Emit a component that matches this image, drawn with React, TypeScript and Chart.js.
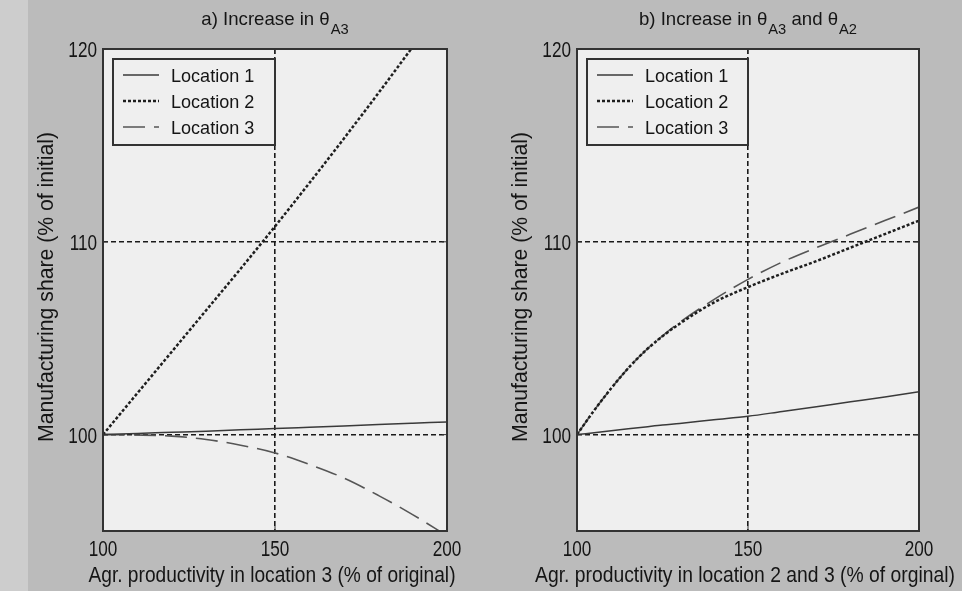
import React, { useEffect, useRef } from "react";
import { Chart, registerables } from "chart.js";

Chart.register(...registerables);

// ---------- data ----------
const seriesNames = ["Location 1", "Location 2", "Location 3"];
const xTicks = [100, 150, 200];
const yTicks = [100, 110, 120];

const xA = [100, 110, 120, 130, 140, 150, 160, 170, 180, 190, 200];
const aLoc1 = [100, 100.06, 100.12, 100.18, 100.25, 100.31, 100.38, 100.45, 100.52, 100.59, 100.66];
const aLoc2 = [100, 102.15, 104.3, 106.45, 108.6, 110.8, 113.05, 115.35, 117.7, 120.1, 122.5];
const aLoc3 = [100, 99.98, 99.92, 99.75, 99.45, 99.05, 98.45, 97.75, 96.85, 95.85, 94.75];

const xB = [100, 105, 110, 115, 120, 125, 130, 140, 150, 160, 170, 180, 190, 200];
const bLoc1 = [100, 100.1, 100.2, 100.3, 100.4, 100.5, 100.58, 100.77, 100.95, 101.2, 101.45, 101.7, 101.95, 102.22];
const bLoc2 = [100, 101.25, 102.4, 103.45, 104.35, 105.1, 105.75, 106.85, 107.65, 108.35, 109.0, 109.7, 110.4, 111.1];
const bLoc3 = [100, 101.25, 102.4, 103.45, 104.35, 105.12, 105.82, 107.0, 108.05, 108.95, 109.7, 110.4, 111.1, 111.8];

const titleA: [string, boolean][] = [["a) Increase in θ", false], ["A3", true]];
const titleB: [string, boolean][] = [["b) Increase in θ", false], ["A3", true], [" and θ", false], ["A2", true]];
const yTitle = "Manufacturing share (% of initial)";
const xTitleA = "Agr. productivity in location 3 (% of original)";
const xTitleB = "Agr. productivity in location 2 and 3 (% of orginal)";

// ---------- styles ----------
const FONT = '"Liberation Sans", Arial, sans-serif';
const TEXT = "#151515";
const lineStyles = [
  { color: "#3a3a3a", width: 1.5, dash: [] as number[] },
  { color: "#1e1e1e", width: 2.5, dash: [3, 2] },
  { color: "#555555", width: 1.6, dash: [22, 9] },
];
const PLOT_BG = "#efefef";
const FRAME = "#333333";

type PanelSpec = {
  xs: number[];
  ys: number[][];
  title: [string, boolean][];
  xTitle: string;
  xTitleWidth: number;
  yAxisWidth: number;
  rightPad: number;
  yTitleX: number;
};

function drawText(
  ctx: CanvasRenderingContext2D,
  text: string,
  x: number,
  y: number,
  size: number,
  squeeze: number,
  align: CanvasTextAlign,
  baseline: CanvasTextBaseline,
  rotate = false
) {
  ctx.save();
  ctx.translate(x, y);
  if (rotate) ctx.rotate(-Math.PI / 2);
  ctx.scale(squeeze, 1);
  ctx.font = `${size}px ${FONT}`;
  ctx.fillStyle = TEXT;
  ctx.textAlign = align;
  ctx.textBaseline = baseline;
  ctx.fillText(text, 0, 0);
  ctx.restore();
}

function squeezeTo(ctx: CanvasRenderingContext2D, text: string, size: number, width: number) {
  ctx.save();
  ctx.font = `${size}px ${FONT}`;
  const w = ctx.measureText(text).width;
  ctx.restore();
  return Math.min(1, width / w);
}

const panelPlugin = (spec: PanelSpec) => ({
  id: "panelDeco",
  beforeDraw(chart: any) {
    const { ctx, chartArea: a } = chart;
    ctx.save();
    ctx.fillStyle = PLOT_BG;
    ctx.fillRect(a.left, a.top, a.right - a.left, a.bottom - a.top);
    ctx.restore();
  },
  afterDatasetsDraw(chart: any) {
    const { ctx, chartArea: a } = chart;
    const xs = chart.scales.x;
    const ys = chart.scales.y;
    ctx.save();
    // frame
    ctx.strokeStyle = FRAME;
    ctx.lineWidth = 2;
    ctx.setLineDash([]);
    ctx.strokeRect(a.left, a.top, a.right - a.left, a.bottom - a.top);
    // inner tick marks
    ctx.lineWidth = 1;
    ys.ticks.forEach((t: any) => {
      const py = ys.getPixelForValue(t.value);
      ctx.beginPath();
      ctx.moveTo(a.left, py); ctx.lineTo(a.left + 5, py);
      ctx.moveTo(a.right, py); ctx.lineTo(a.right - 5, py);
      ctx.stroke();
    });
    xs.ticks.forEach((t: any) => {
      const px = xs.getPixelForValue(t.value);
      ctx.beginPath();
      ctx.moveTo(px, a.bottom); ctx.lineTo(px, a.bottom - 5);
      ctx.moveTo(px, a.top); ctx.lineTo(px, a.top + 5);
      ctx.stroke();
    });
    // legend box
    const bx = a.left + 10;
    const by = a.top + 10;
    const bw = xs.getPixelForValue(150) - bx;
    const bh = 86;
    ctx.fillStyle = PLOT_BG;
    ctx.fillRect(bx, by, bw, bh);
    ctx.strokeStyle = FRAME;
    ctx.lineWidth = 2;
    ctx.strokeRect(bx, by, bw, bh);
    chart.data.datasets.forEach((ds: any, i: number) => {
      const ry = by + 16 + i * 26;
      ctx.beginPath();
      ctx.strokeStyle = ds.borderColor;
      ctx.lineWidth = ds.borderWidth;
      ctx.setLineDash(ds.borderDash || []);
      ctx.moveTo(bx + 10, ry);
      ctx.lineTo(bx + 46, ry);
      ctx.stroke();
      ctx.setLineDash([]);
      drawText(ctx, ds.label, bx + 58, ry + 7, 19, 0.95, "left", "alphabetic");
    });
    ctx.restore();
  },
  afterDraw(chart: any) {
    const { ctx, chartArea: a } = chart;
    const xs = chart.scales.x;
    const ys = chart.scales.y;
    // tick labels from the scales
    ys.ticks.forEach((t: any) => {
      drawText(ctx, String(t.value), a.left - 6, ys.getPixelForValue(t.value) + 8, 22, 0.78, "right", "alphabetic");
    });
    xs.ticks.forEach((t: any) => {
      drawText(ctx, String(t.value), xs.getPixelForValue(t.value), 556, 22, 0.78, "center", "alphabetic");
    });
    // axis titles
    const cx = (a.left + a.right) / 2;
    const cy = (a.top + a.bottom) / 2;
    drawText(ctx, spec.xTitle, cx - 3, 582, 22, squeezeTo(ctx, spec.xTitle, 22, spec.xTitleWidth), "center", "alphabetic");
    drawText(ctx, yTitle, spec.yTitleX, cy - 3, 22, squeezeTo(ctx, yTitle, 22, 310), "center", "alphabetic", true);
    // panel title with subscripts
    const mainSize = 19;
    const subSize = 15;
    const sq = 0.98;
    let total = 0;
    ctx.save();
    spec.title.forEach(([t, sub]) => {
      ctx.font = `${sub ? subSize : mainSize}px ${FONT}`;
      total += ctx.measureText(t).width * sq + (sub ? 1 : 0);
    });
    ctx.restore();
    let x = cx - total / 2;
    spec.title.forEach(([t, sub]) => {
      const size = sub ? subSize : mainSize;
      drawText(ctx, t, x + (sub ? 1 : 0), sub ? 34 : 25, size, sq, "left", "alphabetic");
      ctx.save();
      ctx.font = `${size}px ${FONT}`;
      x += ctx.measureText(t).width * sq + (sub ? 1 : 0);
      ctx.restore();
    });
  },
});

function makeConfig(spec: PanelSpec): any {
  return {
    type: "line",
    data: {
      datasets: seriesNames.map((name, i) => ({
        label: name,
        data: spec.xs.map((x, j) => ({ x, y: spec.ys[i][j] })),
        borderColor: lineStyles[i].color,
        borderWidth: lineStyles[i].width,
        borderDash: lineStyles[i].dash,
        pointRadius: 0,
        fill: false,
        cubicInterpolationMode: "monotone",
      })),
    },
    options: {
      animation: false,
      responsive: false,
      devicePixelRatio: 1,
      layout: { padding: { left: 0, top: 49, right: spec.rightPad, bottom: 0 } },
      plugins: { legend: { display: false }, title: { display: false }, tooltip: { enabled: false } },
      scales: {
        x: {
          type: "linear",
          min: 100,
          max: 200,
          afterBuildTicks: (s: any) => { s.ticks = xTicks.map((v) => ({ value: v })); },
          afterFit: (s: any) => { s.height = 60; },
          ticks: { display: false },
          grid: {
            color: (c: any) => (c.tick && c.tick.value === 150 ? "#1a1a1a" : "rgba(0,0,0,0)"),
            lineWidth: 1.6,
            drawTicks: false,
          },
          border: { display: false, dash: [5, 3] },
          title: { display: false },
        },
        y: {
          type: "linear",
          min: 95,
          max: 120,
          afterBuildTicks: (s: any) => { s.ticks = yTicks.map((v) => ({ value: v })); },
          afterFit: (s: any) => { s.width = spec.yAxisWidth; },
          ticks: { display: false },
          grid: {
            color: (c: any) => (c.tick && c.tick.value < 120 ? "#1a1a1a" : "rgba(0,0,0,0)"),
            lineWidth: 1.6,
            drawTicks: false,
          },
          border: { display: false, dash: [5, 3] },
          title: { display: false },
        },
      },
    },
    plugins: [panelPlugin(spec)],
  };
}

const specA: PanelSpec = {
  xs: xA,
  ys: [aLoc1, aLoc2, aLoc3],
  title: titleA,
  xTitle: xTitleA,
  xTitleWidth: 367,
  yAxisWidth: 103,
  rightPad: 34,
  yTitleX: 53,
};
const specB: PanelSpec = {
  xs: xB,
  ys: [bLoc1, bLoc2, bLoc3],
  title: titleB,
  xTitle: xTitleB,
  xTitleWidth: 420,
  yAxisWidth: 96,
  rightPad: 43,
  yTitleX: 46,
};

function Panel({ spec, left }: { spec: PanelSpec; left: number }) {
  const ref = useRef<HTMLCanvasElement | null>(null);
  useEffect(() => {
    if (!ref.current) return;
    const chart = new Chart(ref.current, makeConfig(spec));
    return () => chart.destroy();
  }, [spec]);
  return (
    <canvas
      ref={ref}
      width={481}
      height={591}
      style={{ position: "absolute", left, top: 0, width: 481, height: 591 }}
    />
  );
}

export default function App() {
  return (
    <div
      style={{
        position: "absolute",
        left: 0,
        top: 0,
        width: 962,
        height: 591,
        background: "#bbbbbb",
        overflow: "hidden",
      }}
    >
      <div style={{ position: "absolute", left: 0, top: 0, width: 28, height: 591, background: "#cdcdcd" }} />
      <Panel spec={specA} left={0} />
      <Panel spec={specB} left={481} />
    </div>
  );
}
